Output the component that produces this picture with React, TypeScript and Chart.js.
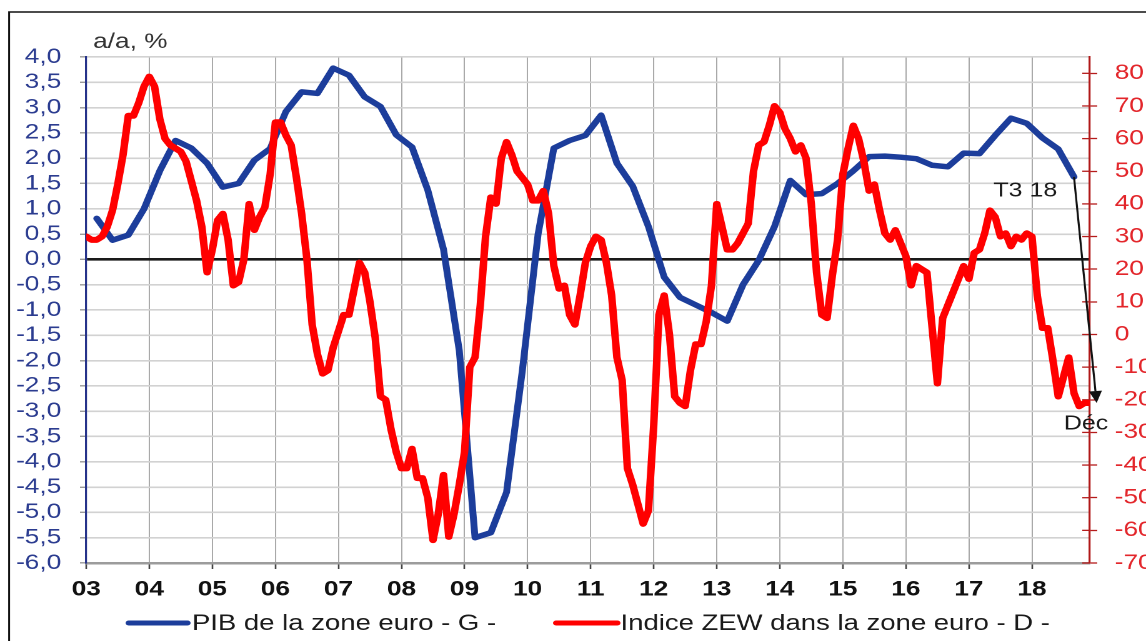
import React, { useEffect, useRef } from 'react';
import { Chart, registerables } from 'chart.js';

Chart.register(...registerables);

// ---------- data ----------
const YEAR_LABELS = ['03', '04', '05', '06', '07', '08', '09', '10', '11', '12', '13', '14', '15', '16', '17', '18'];

const SERIES_LABELS = ['PIB de la zone euro - G -', 'Indice ZEW dans la zone euro - D -'];

// Euro area GDP, y/y %, quarterly 2003 Q1 .. 2018 Q3 (left axis)
const GDP_QUARTERLY = [
  0.81, 0.38, 0.48, 1.0,
  1.75, 2.35, 2.2, 1.9,
  1.43, 1.5, 1.96, 2.19,
  2.92, 3.31, 3.28, 3.78,
  3.64, 3.21, 3.02, 2.46,
  2.22, 1.37, 0.2, -1.8,
  -5.5, -5.4, -4.6, -2.2,
  0.5, 2.2, 2.35, 2.45,
  2.85, 1.9, 1.45, 0.65,
  -0.35, -0.75, -0.9, -1.05,
  -1.22, -0.5, -0.02, 0.65,
  1.56, 1.28, 1.3, 1.5,
  1.75, 2.03, 2.04, 2.02,
  1.99, 1.86, 1.83, 2.1,
  2.09, 2.45, 2.79, 2.69,
  2.4, 2.18, 1.63,
];

// ZEW index, euro area, monthly Jan 2003 .. Dec 2018 (right axis)
const ZEW_MONTHLY = [
  30, 29, 29, 30, 33, 38, 46, 55, 67, 67, 71, 76,
  79, 76, 66, 60, 58, 57, 56, 53, 47, 41, 33, 19,
  26, 35, 37, 29, 15, 16, 23, 40, 32, 36, 39, 49,
  65, 65, 61, 58, 48, 37, 23, 3, -6, -12, -11, -4,
  1, 6, 6, 14, 22, 19, 10, -1, -19, -20, -29, -36,
  -41, -41, -35, -44, -44, -50, -63, -55, -43, -62, -55, -46,
  -36, -10, -7, 9, 30, 42, 40, 54, 59, 55, 50, 48,
  46, 41, 41, 44, 37, 21, 14, 15, 6, 3, 12, 22,
  27, 30, 29, 22, 12, -7, -14, -41, -46, -52, -58, -54,
  -28, 6, 12, 0, -19, -21, -22, -11, -3, -3, 4, 15,
  40, 33, 26, 26, 28, 31, 34, 50, 58, 59, 64, 70,
  68, 63, 60, 56, 58, 54, 40, 19, 6, 5, 18, 29,
  49, 57, 64, 60, 53, 44, 46, 38, 31, 29, 32, 28,
  24, 15, 21, 20, 19, 2, -15, 5, 9, 13, 17, 21,
  17, 25, 26, 31, 38, 36, 30, 31, 27, 30, 29, 31,
  30, 12, 2, 2, -8, -19, -13, -7, -18, -22, -21, -21,
];

const AXIS_TITLE = 'a/a, %';
const NOTE_GDP = 'T3 18';
const NOTE_ZEW = 'Déc';

// ---------- styling ----------
const FONT = "'Liberation Sans', Arial, Helvetica, sans-serif";
const BLUE = '#1c3d9b';
const RED = '#ff0000';
const W = 917; // drawn width, stretched horizontally x1.25 to 1146
const H = 641;
const STRETCH = 1146 / W;

const decorPlugin = {
  id: 'decor',
  beforeDraw(chart: any) {
    const ctx = chart.ctx;
    ctx.save();
    ctx.fillStyle = '#ffffff';
    ctx.fillRect(0, 0, chart.width, chart.height);
    ctx.strokeStyle = '#111111';
    ctx.lineWidth = 1.5;
    ctx.strokeRect(7.3, 12, 2000, 2000);
    ctx.restore();
  },
  beforeDatasetsDraw(chart: any) {
    const ctx = chart.ctx;
    const ca = chart.chartArea;
    const y1 = chart.scales.y1;
    ctx.save();
    ctx.strokeStyle = '#b51c1c';
    ctx.lineWidth = 1.3;
    y1.ticks.forEach((t: any) => {
      const py = y1.getPixelForValue(t.value);
      ctx.beginPath();
      ctx.moveTo(ca.right - 6, py);
      ctx.lineTo(ca.right, py);
      ctx.stroke();
    });
    ctx.restore();
  },
  afterDraw(chart: any) {
    const ctx = chart.ctx;
    const xs = chart.scales.x;
    const yl = chart.scales.y;
    const yr = chart.scales.y1;
    ctx.save();

    // axis unit title
    ctx.fillStyle = '#333333';
    ctx.font = `21px ${FONT}`;
    ctx.textAlign = 'left';
    ctx.textBaseline = 'middle';
    ctx.fillText(AXIS_TITLE, 74.5, 42);

    // annotation arrow from last GDP point to last ZEW value
    const gdpPts = chart.data.datasets[0].data;
    const zewPts = chart.data.datasets[1].data;
    const g = gdpPts[gdpPts.length - 1];
    const z = zewPts[zewPts.length - 1];
    const sx = xs.getPixelForValue(g.x);
    const sy = yl.getPixelForValue(g.y);
    const ex = xs.getPixelForValue(z.x) + 5.5;
    const ey = yr.getPixelForValue(z.y);
    const ang = Math.atan2(ey - sy, ex - sx);
    const headLen = 12;
    const headHalf = 5.2;
    const bx = ex - headLen * Math.cos(ang);
    const by = ey - headLen * Math.sin(ang);
    ctx.strokeStyle = '#111111';
    ctx.lineWidth = 1.6;
    ctx.beginPath();
    ctx.moveTo(sx, sy);
    ctx.lineTo(bx, by);
    ctx.stroke();
    ctx.fillStyle = '#111111';
    ctx.beginPath();
    ctx.moveTo(ex, ey);
    ctx.lineTo(bx + headHalf * Math.sin(ang), by - headHalf * Math.cos(ang));
    ctx.lineTo(bx - headHalf * Math.sin(ang), by + headHalf * Math.cos(ang));
    ctx.closePath();
    ctx.fill();

    ctx.fillStyle = '#1a1a1a';
    ctx.font = `20px ${FONT}`;
    ctx.textAlign = 'center';
    ctx.textBaseline = 'middle';
    ctx.fillText(NOTE_GDP, sx - 39, sy + 14);
    ctx.fillText(NOTE_ZEW, ex - 8.5, ey + 21);

    // legend
    const legendY = 623;
    const items = [
      { x0: 103, x1: 150, tx: 153.6 },
      { x0: 445, x1: 494, tx: 496.5 },
    ];
    chart.data.datasets.forEach((ds: any, i: number) => {
      const it = items[i];
      ctx.strokeStyle = ds.borderColor;
      ctx.lineWidth = 5;
      ctx.lineCap = 'round';
      ctx.beginPath();
      ctx.moveTo(it.x0, legendY);
      ctx.lineTo(it.x1, legendY);
      ctx.stroke();
      ctx.fillStyle = '#1a1a1a';
      ctx.font = `22px ${FONT}`;
      ctx.textAlign = 'left';
      ctx.textBaseline = 'middle';
      ctx.fillText(ds.label, it.tx, legendY + 1);
    });
    ctx.restore();
  },
};

export default function App() {
  const canvasRef = useRef<HTMLCanvasElement | null>(null);

  useEffect(() => {
    const canvas = canvasRef.current;
    if (!canvas) return;

    const gdpPoints = GDP_QUARTERLY.map((v, i) => ({ x: 2 + 3 * i, y: v }));
    const zewPoints = ZEW_MONTHLY.map((v, i) => ({ x: i, y: v }));

    const chart = new Chart(canvas, {
      type: 'line',
      data: {
        datasets: [
          {
            label: SERIES_LABELS[0],
            data: gdpPoints,
            yAxisID: 'y',
            borderColor: BLUE,
            backgroundColor: BLUE,
            borderWidth: 5.5,
            pointRadius: 0,
            tension: 0,
            borderJoinStyle: 'round',
            borderCapStyle: 'round',
            order: 1,
          },
          {
            label: SERIES_LABELS[1],
            data: zewPoints,
            yAxisID: 'y1',
            borderColor: RED,
            backgroundColor: RED,
            borderWidth: 6,
            pointRadius: 0,
            tension: 0,
            borderJoinStyle: 'round',
            borderCapStyle: 'round',
            order: 0,
          },
        ],
      },
      options: {
        responsive: false,
        animation: false,
        devicePixelRatio: 2,
        layout: { padding: { top: 57, left: 0, right: 0, bottom: 0 } },
        plugins: {
          legend: { display: false },
          tooltip: { enabled: false },
          title: { display: false },
        },
        scales: {
          x: {
            type: 'linear',
            min: 0,
            max: 191,
            afterFit: (s: any) => {
              s.height = 78;
            },
            ticks: {
              stepSize: 12,
              includeBounds: false,
              autoSkip: false,
              maxRotation: 0,
              padding: 8,
              color: '#111111',
              font: { family: FONT, size: 21, weight: 'bold' },
              callback: (v: any) => YEAR_LABELS[Math.round(Number(v) / 12)] ?? '',
            },
            grid: {
              color: '#a9a9a9',
              lineWidth: 1,
              drawTicks: true,
              tickLength: 6,
              tickColor: '#444444',
              tickWidth: 1.3,
            },
            border: { display: true, color: '#9c9c9c', width: 2.5 },
          },
          y: {
            type: 'linear',
            position: 'left',
            min: -6,
            max: 4,
            afterFit: (s: any) => {
              s.width = 69;
            },
            ticks: {
              stepSize: 0.5,
              autoSkip: false,
              padding: 15,
              color: '#2b3c90',
              font: { family: FONT, size: 21 },
              callback: (v: any) => Number(v).toFixed(1).replace('.', ','),
            },
            grid: {
              color: (c: any) => (c.tick && c.tick.value === 0 ? '#1a1a1a' : '#d2d2d2'),
              lineWidth: (c: any) => (c.tick && c.tick.value === 0 ? 2.6 : 1.6),
              drawTicks: true,
              tickLength: 5,
              tickColor: '#9a9a9a',
              tickWidth: 1.4,
            },
            border: { display: true, color: '#26338a', width: 1.6 },
          },
          y1: {
            type: 'linear',
            position: 'right',
            min: -70,
            max: 85,
            afterFit: (s: any) => {
              s.width = 45;
            },
            ticks: {
              stepSize: 10,
              includeBounds: false,
              autoSkip: false,
              padding: 14,
              color: '#e3262b',
              font: { family: FONT, size: 21 },
              callback: (v: any) => String(v),
            },
            grid: {
              drawOnChartArea: false,
              drawTicks: true,
              tickLength: 6,
              tickColor: '#b51c1c',
              tickWidth: 1.3,
            },
            border: { display: true, color: '#b01818', width: 1.6 },
          },
        },
      },
      plugins: [decorPlugin],
    } as any);

    return () => {
      chart.destroy();
    };
  }, []);

  return (
    <div
      style={{
        position: 'absolute',
        left: 0,
        top: 0,
        width: 1146,
        height: H,
        overflow: 'hidden',
        background: '#ffffff',
      }}
    >
      <div style={{ width: W, height: H, transform: `scaleX(${STRETCH})`, transformOrigin: '0 0' }}>
        <canvas
          ref={canvasRef}
          width={W}
          height={H}
          style={{ display: 'block', width: W, height: H }}
        />
      </div>
    </div>
  );
}
